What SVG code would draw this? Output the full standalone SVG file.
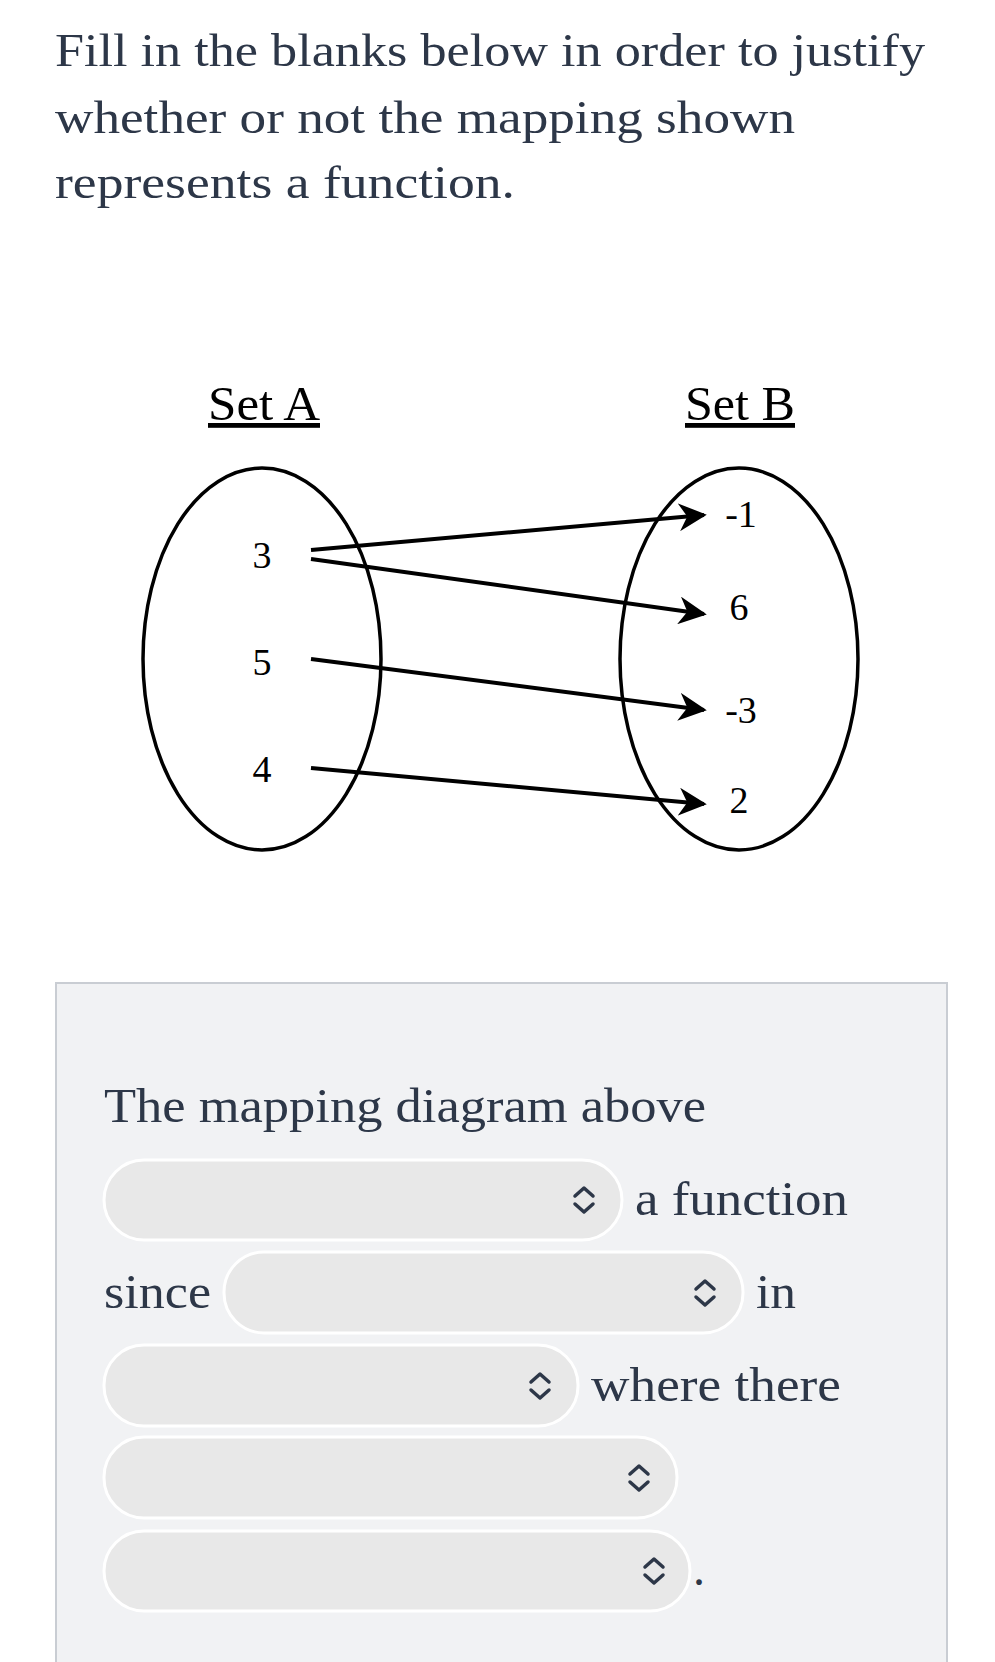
<svg xmlns="http://www.w3.org/2000/svg" width="995" height="1662" viewBox="0 0 995 1662">
<style>
.t{font-family:"Liberation Serif","DejaVu Serif",serif;fill:#2d3748}
.n{font-family:"Liberation Serif",serif;font-size:38px;fill:#000;text-anchor:middle}
.h{font-family:"Liberation Serif",serif;font-size:48px;fill:#000;text-decoration:underline}
.e{fill:none;stroke:#000;stroke-width:3.5}
.c line{stroke:#000;stroke-width:4;marker-end:url(#a)}
.p{fill:#e8e8e8;stroke:#fff;stroke-width:3}
.i{fill:none;stroke:#2d3748;stroke-width:3.5;stroke-linecap:round;stroke-linejoin:round}
</style>
<defs>
<marker id="a" viewBox="0 0 10 10" refX="9" refY="5" markerWidth="7" markerHeight="7" orient="auto" markerUnits="strokeWidth">
<path d="M0,0 L10,5 L0,10 L3,5 Z" fill="#000"/>
</marker>
<g id="chev"><path class="i" d="M-9,-4 L0,-12 L9,-4 M-9,4 L0,12 L9,4"/></g>
</defs>
<rect width="995" height="1662" fill="#fff"/>
<g id="title" class="t" font-size="46">
<text x="55" y="66" textLength="870" lengthAdjust="spacingAndGlyphs">Fill in the blanks below in order to justify</text>
<text x="55" y="133" textLength="740" lengthAdjust="spacingAndGlyphs">whether or not the mapping shown</text>
<text x="55" y="198" textLength="460" lengthAdjust="spacingAndGlyphs">represents a function.</text>
</g>
<g id="setA">
<text class="h" x="208" y="420" textLength="112" lengthAdjust="spacingAndGlyphs">Set A</text>
<ellipse class="e" cx="262" cy="659" rx="119" ry="191"/>
<text class="n" x="262" y="568">3</text>
<text class="n" x="262" y="675">5</text>
<text class="n" x="262" y="782">4</text>
</g>
<g id="setB">
<text class="h" x="685" y="420" textLength="110" lengthAdjust="spacingAndGlyphs">Set B</text>
<ellipse class="e" cx="739" cy="659" rx="119" ry="191"/>
<text class="n" x="741" y="527">-1</text>
<text class="n" x="739" y="620">6</text>
<text class="n" x="741" y="723">-3</text>
<text class="n" x="739" y="813">2</text>
</g>
<g id="connectors" class="c">
<line x1="311" y1="550" x2="704" y2="515"/>
<line x1="311" y1="559" x2="704" y2="614"/>
<line x1="311" y1="659" x2="704" y2="710"/>
<line x1="311" y1="768" x2="704" y2="804"/>
</g>
<g id="panel">
<rect x="56" y="983" width="891" height="700" fill="#f1f2f4" stroke="#c9cdd3" stroke-width="2"/>
<text class="t" x="104" y="1122" font-size="48" textLength="602" lengthAdjust="spacingAndGlyphs">The mapping diagram above</text>
<rect class="p" x="104" y="1160" width="518" height="80" rx="40"/>
<use href="#chev" x="584" y="1200"/>
<text class="t" x="635" y="1215" font-size="48" textLength="213" lengthAdjust="spacingAndGlyphs">a function</text>
<text class="t" x="104" y="1308" font-size="48" textLength="107" lengthAdjust="spacingAndGlyphs">since</text>
<rect class="p" x="224" y="1252" width="519" height="81" rx="40"/>
<use href="#chev" x="705" y="1293"/>
<text class="t" x="756" y="1308" font-size="48" textLength="40" lengthAdjust="spacingAndGlyphs">in</text>
<rect class="p" x="104" y="1345" width="474" height="81" rx="40"/>
<use href="#chev" x="540" y="1386"/>
<text class="t" x="591" y="1401" font-size="48" textLength="250" lengthAdjust="spacingAndGlyphs">where there</text>
<rect class="p" x="104" y="1437" width="573" height="81" rx="40"/>
<use href="#chev" x="639" y="1478"/>
<rect class="p" x="104" y="1531" width="586" height="80" rx="40"/>
<use href="#chev" x="654" y="1571"/>
<text class="t" x="693" y="1585" font-size="48">.</text>
</g>
</svg>
